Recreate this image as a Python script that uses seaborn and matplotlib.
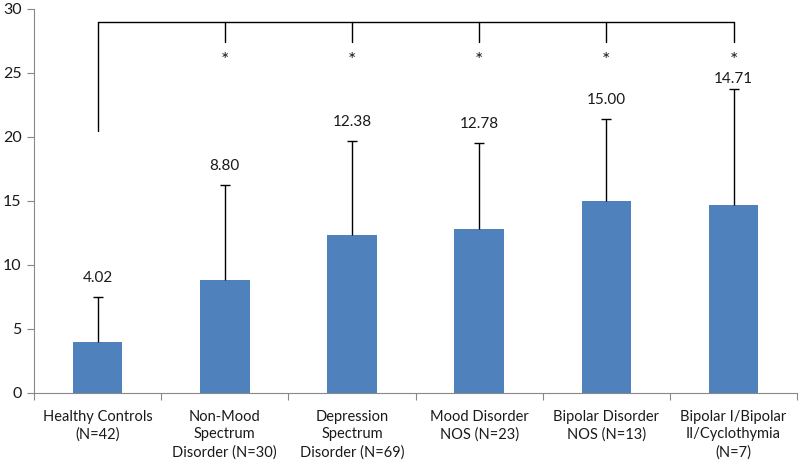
import matplotlib
matplotlib.use("Agg")
import matplotlib.pyplot as plt
import seaborn as sns
import pandas as pd
import numpy as np

categories = ["Healthy Controls\n(N=42)", "Non-Mood\nSpectrum\nDisorder (N=30)",
              "Depression\nSpectrum\nDisorder (N=69)", "Mood Disorder\nNOS (N=23)",
              "Bipolar Disorder\nNOS (N=13)", "Bipolar I/Bipolar\nII/Cyclothymia\n(N=7)"]
means = [4.02, 8.80, 12.38, 12.78, 15.00, 14.71]
sds = [3.48, 7.45, 7.30, 6.75, 6.40, 9.05]
value_labels = ["4.02", "8.80", "12.38", "12.78", "15.00", "14.71"]
yticks = [0, 5, 10, 15, 20, 25, 30]

sns.set_theme(style="white")
plt.rcParams["font.family"] = ["Lato", "DejaVu Sans"]

df = pd.DataFrame({"group": categories, "mean": means})

fig = plt.figure(figsize=(8, 4.68), dpi=100)
ax = fig.add_axes([0.0425, 0.1603, 0.954, 0.8205])
sns.barplot(data=df, x="group", y="mean", color="#4F81BD", saturation=1,
            width=0.39, ax=ax, errorbar=None, edgecolor="none")
x = np.arange(len(categories))
eb = ax.errorbar(x, means, yerr=[np.zeros(len(sds)), sds], fmt="none",
                 ecolor="black", elinewidth=1.0, capsize=3.5, capthick=1.0, zorder=1)
# hide the lower caps (only upper error shown)
caplines = eb[1]
if len(caplines) == 2:
    caplines[0].set_visible(False)

tops = np.array(means) + np.array(sds)
for i, (t, lab) in enumerate(zip(tops, value_labels)):
    off = 0.8 if i == len(tops) - 1 else 1.5
    ax.text(i, t + off, lab, ha="center", va="center", fontsize=11, color="#1a1a1a")

# significance bracket
ybr = 29.0
ax.plot([0, len(categories) - 1], [ybr, ybr], color="black", lw=1.0)
ax.plot([0, 0], [ybr, 20.5], color="black", lw=1.0)
for i in range(1, len(categories)):
    ax.plot([i, i], [ybr, 27.4], color="black", lw=1.0)
    ax.text(i, 26.0, "*", ha="center", va="center", fontsize=14, color="#1a1a1a")

ax.set_ylim(0, 30)
ax.set_xlim(-0.5, len(categories) - 0.5)
ax.set_yticks(yticks)
ax.set_yticklabels([str(v) for v in yticks], fontsize=11.5, color="#1a1a1a")
ax.set_xticks(x)
ax.set_xticklabels(categories, fontsize=10.5, color="#1a1a1a", linespacing=1.35)
ax.set_xticks(np.arange(-0.5, len(categories)), minor=True)
ax.tick_params(axis="x", which="major", length=0, pad=12)
ax.tick_params(axis="x", which="minor", length=5, color="#888888", width=0.8, direction="out", bottom=True)
ax.tick_params(axis="y", length=5, color="#888888", width=0.8, direction="out", left=True, pad=4)
ax.set_xlabel("")
ax.set_ylabel("")
for s in ["top", "right"]:
    ax.spines[s].set_visible(False)
for s in ["left", "bottom"]:
    ax.spines[s].set_color("#888888")
    ax.spines[s].set_linewidth(0.8)

fig.savefig("out.png", dpi=100)
